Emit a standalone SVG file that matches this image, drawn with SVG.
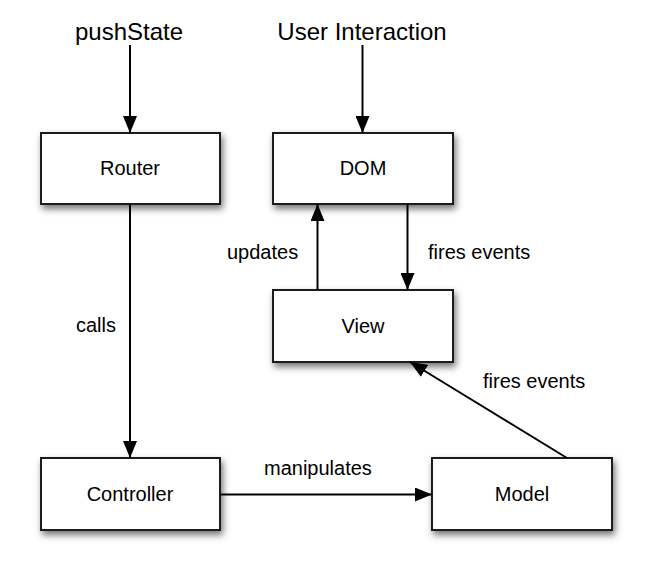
<svg xmlns="http://www.w3.org/2000/svg" width="652" height="580" viewBox="0 0 652 580">
<style>
.box{fill:#fff;stroke:#1a1a1a;stroke-width:2;filter:url(#sh)}
.lbl{font-family:"Liberation Sans",Arial,sans-serif;font-size:20px;fill:#000;text-anchor:middle}
.elbl{font-family:"Liberation Sans",Arial,sans-serif;font-size:20px;fill:#000}
.top{font-family:"Liberation Sans",Arial,sans-serif;font-size:24px;fill:#000;text-anchor:middle}
.edge{fill:none;stroke:#000;stroke-width:2;marker-end:url(#ah)}
</style>
<defs>
<filter id="sh" x="-20%" y="-20%" width="150%" height="160%">
<feDropShadow dx="2" dy="4" stdDeviation="3.5" flood-color="#000" flood-opacity="0.55"/>
</filter>
<marker id="ah" markerUnits="userSpaceOnUse" markerWidth="18" markerHeight="14" refX="17" refY="7" orient="auto">
<path d="M0,0 L17,7 L0,14 z" fill="#000"/>
</marker>
</defs>
<rect width="652" height="580" fill="#fff"/>
<g id="router"><rect class="box" x="41" y="133" width="179" height="71"/><text class="lbl" x="130" y="175">Router</text></g>
<g id="dom"><rect class="box" x="273" y="133" width="180" height="71"/><text class="lbl" x="363" y="175">DOM</text></g>
<g id="view"><rect class="box" x="273" y="290" width="180" height="72"/><text class="lbl" x="363" y="333">View</text></g>
<g id="controller"><rect class="box" x="41" y="458" width="179" height="72"/><text class="lbl" x="130" y="501">Controller</text></g>
<g id="model"><rect class="box" x="432" y="458" width="180" height="72"/><text class="lbl" x="522" y="501">Model</text></g>
<g id="pushstate"><text class="top" x="129" y="40">pushState</text></g>
<g id="userinteraction"><text class="top" x="362" y="40">User Interaction</text></g>
<g id="connectors">
<line class="edge" x1="130" y1="45" x2="130" y2="133"/>
<line class="edge" x1="362.5" y1="45" x2="362.5" y2="133"/>
<line class="edge" x1="130" y1="204" x2="130" y2="458"/>
<line class="edge" x1="317.5" y1="290" x2="317.5" y2="204"/>
<line class="edge" x1="407.5" y1="204" x2="407.5" y2="290"/>
<line class="edge" x1="220" y1="494.5" x2="432" y2="494.5"/>
<line class="edge" x1="567" y1="458" x2="410" y2="362"/>
<text class="elbl" x="227" y="259">updates</text>
<text class="elbl" x="428" y="259">fires events</text>
<text class="elbl" x="76" y="332">calls</text>
<text class="elbl" x="264" y="475">manipulates</text>
<text class="elbl" x="483" y="388">fires events</text>
</g>
</svg>
